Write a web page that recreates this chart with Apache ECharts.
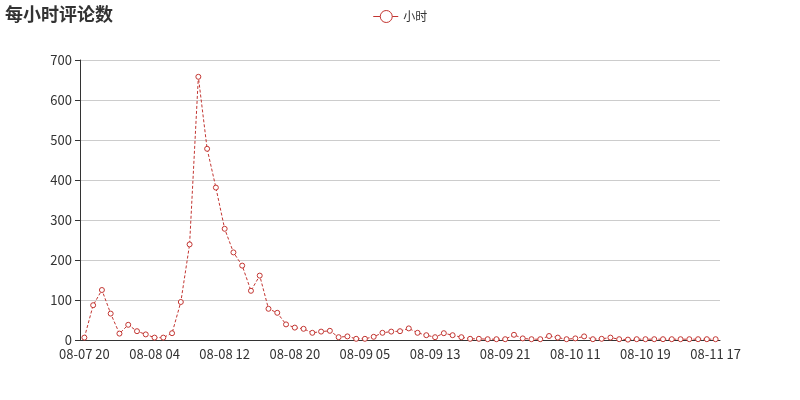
<!DOCTYPE html>
<html>
<head>
<meta charset="utf-8">
<title>每小时评论数</title>
<script src="https://cdn.jsdelivr.net/npm/echarts@6/dist/echarts.min.js"></script>
<style>
  html, body { margin: 0; padding: 0; background: #fff; }
  #chart { width: 800px; height: 400px; }
</style>
</head>
<body>
<div id="chart"></div>
<script>
// categories: hours (some hours without comments are missing)
const hours = [
  '08-07 20', '08-07 21', '08-07 22', '08-07 23',
  '08-08 00', '08-08 01', '08-08 02', '08-08 03', '08-08 04', '08-08 05',
  '08-08 06', '08-08 07', '08-08 08', '08-08 09', '08-08 10', '08-08 11',
  '08-08 12', '08-08 13', '08-08 14', '08-08 15', '08-08 16', '08-08 17',
  '08-08 18', '08-08 19', '08-08 20', '08-08 21', '08-08 22', '08-08 23',
  '08-09 00', '08-09 01', '08-09 02', '08-09 04', '08-09 05', '08-09 06',
  '08-09 07', '08-09 08', '08-09 09', '08-09 10', '08-09 11', '08-09 12',
  '08-09 13', '08-09 14', '08-09 15', '08-09 16', '08-09 17', '08-09 18',
  '08-09 19', '08-09 20', '08-09 21', '08-09 22', '08-09 23', '08-10 00',
  '08-10 07', '08-10 08', '08-10 09', '08-10 10', '08-10 11', '08-10 12',
  '08-10 13', '08-10 14', '08-10 15', '08-10 16', '08-10 17', '08-10 18',
  '08-10 19', '08-10 20', '08-10 21', '08-10 22', '08-10 23', '08-11 08',
  '08-11 10', '08-11 13', '08-11 17'
]

const counts = [
  6, 87, 125, 66, 16, 38, 22, 14, 6, 6,
  17, 95, 239, 658, 478, 381, 278, 219, 186, 123,
  161, 78, 68, 39, 31, 28, 18, 21, 23, 7,
  9, 3, 3, 8, 18, 21, 22, 29, 18, 12,
  7, 17, 12, 7, 3, 3, 2, 2, 2, 13,
  4, 2, 2, 10, 6, 2, 4, 9, 2, 3,
  6, 2, 1, 2, 2, 2, 2, 2, 2, 2,
  2, 2, 2
]

const seriesName = '小时'
const yTicks = { min: 0, max: 700, interval: 100 }

// legend icon: a line running through an empty circle
const legendIcon = 'path://M0,7L7,7M19,7L25,7M7,7A6,6,0,1,1,19,7A6,6,0,1,1,7,7Z'

const chart = echarts.init(document.getElementById('chart'))

chart.setOption({
  color: ['#c23531'],
  textStyle: {
    fontFamily: '"Noto Sans CJK SC", sans-serif'
  },
  title: {
    text: '每小时评论数',
    left: 5,
    top: 5,
    padding: 0,
    textStyle: {
      fontSize: 18,
      fontWeight: 'bold',
      color: '#333'
    }
  },
  legend: {
    data: [{ name: seriesName, icon: legendIcon }],
    top: 5,
    left: 'center',
    itemWidth: 25,
    itemHeight: 12,
    itemGap: 10,
    itemStyle: { color: '#fff', borderColor: '#c23531', borderWidth: 1 },
    textStyle: { color: '#333', fontSize: 12 }
  },
  grid: {
    left: 80,
    right: 80,
    top: 60,
    bottom: 60
  },
  xAxis: {
    type: 'category',
    data: hours,
    boundaryGap: true,
    axisLine: { lineStyle: { color: '#333' } },
    axisTick: {
      alignWithLabel: true,
      interval: function (index) {
        return index % 8 === 4
      }
    },
    axisLabel: {
      interval: 7,
      color: '#333',
      fontSize: 13
    }
  },
  yAxis: {
    type: 'value',
    min: yTicks.min,
    max: yTicks.max,
    interval: yTicks.interval,
    axisLine: { show: true, lineStyle: { color: '#333' } },
    axisTick: { show: true },
    axisLabel: { color: '#333', fontSize: 13 },
    splitLine: { lineStyle: { color: '#ccc' } }
  },
  series: [{
    name: seriesName,
    type: 'line',
    data: counts,
    symbol: 'circle',
    symbolSize: 5,
    showSymbol: true,
    showAllSymbol: true,
    itemStyle: { color: '#fff', borderColor: '#c23531', borderWidth: 1 },
    lineStyle: {
      color: '#c23531',
      width: 1,
      type: [3, 2]
    },
    animation: false
  }]
})
</script>
</body>
</html>
